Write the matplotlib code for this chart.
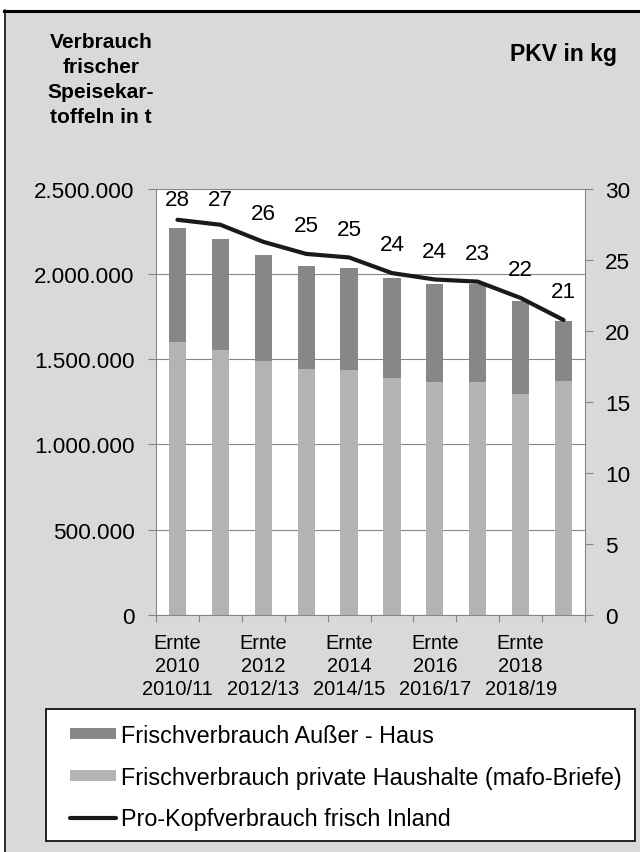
import matplotlib.pyplot as plt
from matplotlib.lines import Line2D
from matplotlib.patches import Rectangle
from matplotlib.ticker import FuncFormatter
import numpy as np

plt.rcParams['font.family'] = ['Liberation Sans', 'DejaVu Sans']

# Erntejahre / Wirtschaftsjahre
ernte = ["Ernte\n2010\n2010/11", "Ernte\n2011\n2011/12", "Ernte\n2012\n2012/13",
         "Ernte\n2013\n2013/14", "Ernte\n2014\n2014/15", "Ernte\n2015\n2015/16",
         "Ernte\n2016\n2016/17", "Ernte\n2017\n2017/18", "Ernte\n2018\n2018/19",
         "Ernte\n2019\n2019/20"]

# Verbrauch in t
private_haushalte = [1598000, 1553000, 1489000, 1442000, 1436000,
                     1389000, 1366000, 1366000, 1295000, 1370000]
ausser_haus = [669000, 649000, 623000, 602000, 600000,
               586000, 572000, 574000, 547000, 353000]

# Pro-Kopf-Verbrauch in kg
pkv = [27.8, 27.45, 26.25, 25.4, 25.15, 24.05, 23.6, 23.45, 22.3, 20.75]

GRID = '#868686'
W, H = 640, 853

fig = plt.figure(figsize=(6.4, 8.53), dpi=100)
fig.patch.set_facecolor('white')

# grauer Hintergrund mit Rahmenlinien
fig.add_artist(Rectangle((4 / W, 0), 1, 1 - 11 / H, transform=fig.transFigure,
                         facecolor='#d9d9d9', edgecolor='none', zorder=-10))
fig.add_artist(Line2D([4 / W, 1], [1 - 11.5 / H] * 2, transform=fig.transFigure,
                      color='black', lw=2.2))
fig.add_artist(Line2D([4.5 / W] * 2, [0, 1 - 11 / H], transform=fig.transFigure,
                      color='black', lw=1.1))

ax = fig.add_axes([156 / W, 1 - 616 / H, (585 - 156) / W, (616 - 189.5) / H])
ax.set_facecolor('white')

x = np.arange(len(ernte))
b1 = ax.bar(x, ausser_haus, bottom=private_haushalte, width=0.4, color='#878787',
            label='Frischverbrauch Außer - Haus')
b2 = ax.bar(x, private_haushalte, width=0.4, color='#b3b3b3',
            label='Frischverbrauch private Haushalte (mafo-Briefe)')

ax.set_xlim(-0.5, len(ernte) - 0.5)
ax.set_ylim(0, 2500000)
ax.set_yticks(np.arange(0, 2500001, 500000))
ax.yaxis.set_major_formatter(FuncFormatter(lambda v, p: f"{int(v):,}".replace(',', '.')))
ax.yaxis.grid(True, color=GRID, lw=0.8)
ax.set_axisbelow(True)

ax.set_xticks(x[::2])
ax.set_xticklabels(ernte[::2])
ax.set_xticks(np.arange(-0.5, len(ernte), 1), minor=True)
ax.tick_params(axis='x', which='major', length=0, labelsize=14.4, pad=13)
ax.tick_params(axis='x', which='minor', length=5, color=GRID, width=0.8)
ax.tick_params(axis='y', length=6, color=GRID, width=0.8, labelsize=16.2, pad=9.5)
for lbl in ax.get_xticklabels():
    lbl.set_linespacing(1.28)

for s in ['top', 'right']:
    ax.spines[s].set_visible(False)
for s in ['left', 'bottom']:
    ax.spines[s].set_color(GRID)
    ax.spines[s].set_linewidth(0.8)

ax2 = ax.twinx()
ln, = ax2.plot(x, pkv, color='#1a1a1a', lw=3, solid_capstyle='round',
               label='Pro-Kopfverbrauch frisch Inland')
ax2.set_ylim(0, 30)
ax2.set_yticks(np.arange(0, 31, 5))
ax2.tick_params(axis='y', length=6, color=GRID, width=0.8, labelsize=16.2, pad=8.5)
for s in ['top', 'left', 'bottom']:
    ax2.spines[s].set_visible(False)
ax2.spines['right'].set_color(GRID)
ax2.spines['right'].set_linewidth(0.8)

# Datenbeschriftung über der Linie, innerhalb der Zeichenfläche gehalten
for xi, v in zip(x, pkv):
    ax2.text(xi, min(v + 2.0, 29.2), f"{v:.0f}", ha='center', va='center',
             fontsize=16.2)

fig.text(101 / W, 1 - 80 / H, "Verbrauch\nfrischer\nSpeisekar-\ntoffeln in t",
         ha='center', va='center', fontsize=15.1, fontweight='bold', linespacing=1.38)
fig.text(564 / W, 1 - 55 / H, "PKV in kg", ha='center', va='center',
         fontsize=16.6, fontweight='bold')

# Legende
fig.add_artist(Rectangle((46 / W, 1 - 842 / H), (635 - 46) / W, (842 - 710) / H,
                         transform=fig.transFigure, facecolor='white',
                         edgecolor='black', lw=1.2, zorder=4))
fig.legend([b1, b2, ln], [b1.get_label(), b2.get_label(), ln.get_label()],
           loc='upper left', bbox_to_anchor=(70 / W, 1 - 725 / H),
           frameon=False, fontsize=16.8, handlelength=1.95, handleheight=0.35,
           handletextpad=0.25, labelspacing=0.8, borderpad=0, borderaxespad=0)

fig.savefig('out.png', dpi=100)
